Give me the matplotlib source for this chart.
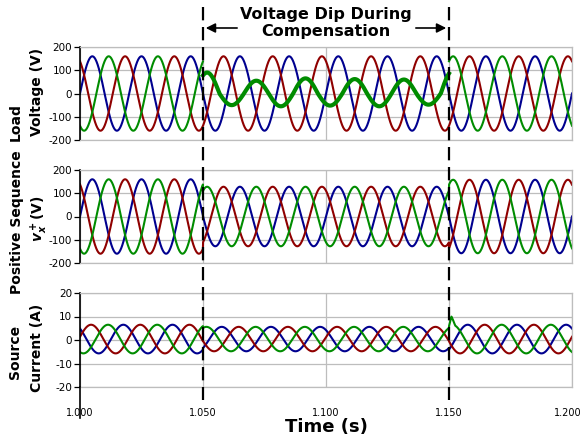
import numpy as np
import matplotlib
matplotlib.use("Agg")
import matplotlib.pyplot as plt
import matplotlib.transforms as mtrans
from matplotlib.lines import Line2D

plt.rcParams["font.family"] = ["DejaVu Sans"]
plt.rcParams["axes.unicode_minus"] = False
plt.rcParams["mathtext.fontset"] = "custom"
plt.rcParams["mathtext.it"] = "DejaVu Sans:italic:bold"
plt.rcParams["mathtext.rm"] = "DejaVu Sans:bold"

# ---- waveform data -------------------------------------------------------
fLine   = 50.0                      # Hz
tStart  = 1.000
tEnd    = 1.200
tDip    = [1.050, 1.150]            # voltage dip / compensation window
phases  = ["a", "b", "c"]
colors  = {"a": "#00008f", "b": "#8f0000", "c": "#008c00"}

# load voltage: sine phase (deg) and peak value before / during / after the dip
vPhase   = {"a": 0.0, "b": 120.0, "c": -120.0}
vLoadAmp = {"a": [160, 160, 160], "b": [160, 160, 160], "c": [160, None, 160]}
# phase c during the dip, peak of every half cycle (zero crossing to zero crossing)
vDipC    = [90, -50, 55, -55, 65, -52, 62, -55, 60, -48, 100]

# positive sequence voltage
vPosAmp  = {"a": [160, 128, 158], "b": [160, 128, 158], "c": [160, 128, 158]}

# source current
iPhase   = {"a": 133.0, "b": 9.0, "c": -115.0}
iAmp     = {"a": [6.1, 5.2, 6.1], "b": [6.1, 5.2, 6.1], "c": [6.1, 5.2, 6.1]}
iOffset  = 0.4
iSpikeT  = [1.1500, 1.1510, 1.1525]   # phase c current spike on recovery
iSpikeV  = [0.0, 3.5, 0.0]

xTicks  = [1.000, 1.050, 1.100, 1.150, 1.200]
vTicks  = [-200, -100, 0, 100, 200]
iTicks  = [-20, -10, 0, 10, 20]


t  = np.linspace(tStart, tEnd, 6001)
wt = 2*np.pi*fLine*(t - tStart)
seg = np.where(t < tDip[0], 0, np.where(t < tDip[1], 1, 2))


def SegWave(amps, ph, off=0.0):
  out = np.zeros_like(t)
  for iSeg, a in enumerate(amps):
    if a is None:
      continue
    m = seg == iSeg
    out[m] = off + a*np.sin(wt[m] + np.deg2rad(ph))
  return out


def DipHalfCycles(peaks, ph):
  # half cycle index counted from the first zero crossing before the dip
  ang = wt + np.deg2rad(ph)
  k0 = np.floor((2*np.pi*fLine*(tDip[0] - tStart) + np.deg2rad(ph))/np.pi)
  k = (np.floor(ang/np.pi) - k0).astype(int)
  k = np.clip(k, 0, len(peaks) - 1)
  return np.abs(np.array(peaks))[k]*np.sin(ang)


vLoad = {p: SegWave(vLoadAmp[p], vPhase[p]) for p in phases}
mDip = seg == 1
vLoad["c"][mDip] = DipHalfCycles(vDipC, vPhase["c"])[mDip]
vPos  = {p: SegWave(vPosAmp[p], vPhase[p]) for p in phases}
iSrc  = {p: SegWave(iAmp[p], iPhase[p], iOffset) for p in phases}
iSrc["c"] = iSrc["c"] + np.interp(t, iSpikeT, iSpikeV, left=0, right=0)


# ---- figure --------------------------------------------------------------
W, H = 584, 443
fig = plt.figure(figsize=(W/100, H/100), dpi=100)

def px2fig(x, y):
  return x/W, 1 - y/H

axL, axW = 80/W, 492/W
axTop = fig.add_axes([axL, 1 - 140/H, axW, 93/H])
axMid = fig.add_axes([axL, 1 - 263/H, axW, 93/H])
axBot = fig.add_axes([axL, 1 - 387/H, axW, 94/H])

gridCol = "#bdbdbd"
for ax, data, lim, ticks in [(axTop, vLoad, 200, vTicks),
                             (axMid, vPos, 200, vTicks),
                             (axBot, iSrc, 20, iTicks)]:
  for p in phases:
    lw = 1.5
    if ax is axTop and p == "c":
      # ripple during the dip makes this trace look heavier
      m = t < tDip[0]
      ax.plot(t[m], data[p][m], color=colors[p], lw=lw)
      m = (t >= tDip[0]) & (t < tDip[1])
      ax.plot(t[m], data[p][m], color=colors[p], lw=3.0)
      m = t >= tDip[1]
      ax.plot(t[m], data[p][m], color=colors[p], lw=lw)
      continue
    ax.plot(t, data[p], color=colors[p], lw=lw)
  ax.set_xlim(tStart, tEnd)
  ax.set_ylim(-lim, lim)
  ax.set_yticks(ticks)
  ax.set_xticks(xTicks)
  ax.grid(True, color=gridCol, lw=0.9)
  ax.set_axisbelow(True)
  for s in ["top", "right", "bottom"]:
    ax.spines[s].set_color(gridCol)
    ax.spines[s].set_linewidth(0.9)
  ax.spines["left"].set_color("black")
  ax.spines["left"].set_linewidth(1.2)
  ax.tick_params(axis="y", length=4, width=0.9, pad=1.5, labelsize=7.5, colors="black")
  ax.tick_params(axis="x", length=0, pad=15, labelsize=7)
  if ax is not axBot:
    ax.set_xticklabels([])

axBot.set_xticklabels(["%.3f" % x for x in xTicks])
# keep the last time label inside the canvas
lastLbl = axBot.get_xticklabels()[-1]
lastLbl.set_transform(lastLbl.get_transform() +
                      mtrans.ScaledTranslation(-4/100, 0, fig.dpi_scale_trans))
axBot.set_xlabel("Time (s)", fontsize=13, fontweight="bold", labelpad=0)

# left axis line carries on through the time labels
x0, y0 = px2fig(80, 387)
x1, y1 = px2fig(80, 418)
fig.add_artist(Line2D([x0, x1], [y0, y1], color="black", lw=1.2))

# dashed markers for start/end of the dip
for tm in tDip:
  xf = axL + (tm - tStart)/(tEnd - tStart)*axW
  fig.add_artist(Line2D([xf, xf], [1 - 7/H, 1 - 400/H], color="black", lw=1.6,
                        linestyle=(0, (6, 3))))

# y labels
lblKw = dict(rotation=90, ha="center", va="center", fontsize=10, fontweight="bold")
fig.text(*px2fig(16, 122), "Load", **lblKw)
fig.text(*px2fig(37, 92), "Voltage (V)", **lblKw)
fig.text(*px2fig(17, 222), "Positive Sequence", **lblKw)
fig.text(*px2fig(39, 219), r"$v_x^+$(V)", **lblKw)
fig.text(*px2fig(15, 352), "Source", **lblKw)
fig.text(*px2fig(37, 348), "Current (A)", **lblKw)

# dip annotation
yArr = 1 - 28/H
axTop.annotate("", xy=(tDip[0], yArr), xytext=(1.065, yArr),
               xycoords=("data", "figure fraction"), textcoords=("data", "figure fraction"),
               arrowprops=dict(arrowstyle="-|>", color="black", lw=1.2, mutation_scale=14))
axTop.annotate("", xy=(tDip[1], yArr), xytext=(1.1354, yArr),
               xycoords=("data", "figure fraction"), textcoords=("data", "figure fraction"),
               arrowprops=dict(arrowstyle="-|>", color="black", lw=1.2, mutation_scale=14))
fig.text(*px2fig(326, 23), "Voltage Dip During\nCompensation", ha="center", va="center",
         fontsize=11.5, fontweight="bold", linespacing=1.15)

fig.savefig("out.png", dpi=100)
